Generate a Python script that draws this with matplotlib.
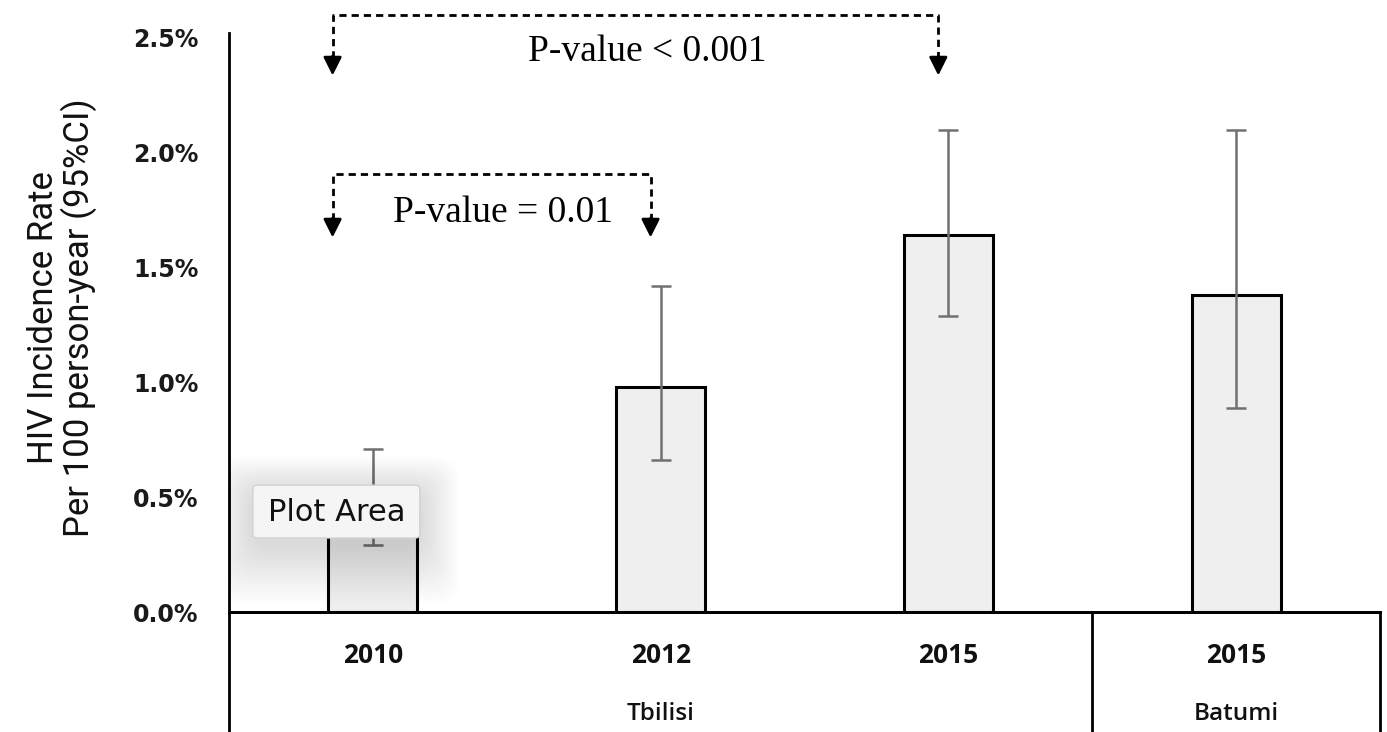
import matplotlib
matplotlib.use('Agg')
import matplotlib.pyplot as plt
from matplotlib.patches import FancyBboxPatch
import numpy as np

# ---------------- data ----------------
categories = ['2010', '2012', '2015', '2015']
cities = ['Tbilisi', 'Batumi']
city_members = [[0, 1, 2], [3]]
rates = [0.46, 0.98, 1.64, 1.38]          # % per 100 person-years
ci_low = [0.29, 0.66, 1.29, 0.89]
ci_high = [0.71, 1.42, 2.10, 2.10]
yticks = [0.0, 0.5, 1.0, 1.5, 2.0, 2.5]
comparisons = [(0, 2, 'P-value < 0.001'), (0, 1, 'P-value = 0.01')]
ylabel_lines = ['HIV Incidence Rate', 'Per 100 person-year (95%CI)']

# ---------------- layout / style ----------------
W, H = 1387, 732
fig = plt.figure(figsize=(W / 100, H / 100), dpi=100)
ax = fig.add_axes([229 / W, 1 - 612 / H, (1380 - 229) / W, (612 - 33) / H])

x = np.arange(len(categories))
rates_a = np.array(rates)
err = [rates_a - np.array(ci_low), np.array(ci_high) - rates_a]

ax.bar(x, rates, width=0.31, color='#efefef', edgecolor='black',
       linewidth=2.2, zorder=2)
ax.errorbar(x, rates, yerr=err, fmt='none', ecolor='#707070',
            elinewidth=1.8, capsize=7, capthick=1.8, zorder=3)

ax.set_xlim(-0.5, 3.5)
ax.set_ylim(0, 2.52)
ax.set_yticks(yticks)
ax.set_yticklabels([f'{v:.1f}%' for v in yticks], fontsize=17,
                   family='DejaVu Sans', weight='bold', color='#1a1a1a')
ax.tick_params(axis='y', length=0, pad=22)
ax.set_xticks([])
for s in ['top', 'right']:
    ax.spines[s].set_visible(False)
ax.spines['left'].set_linewidth(2)
ax.spines['bottom'].set_linewidth(2)

# category table below the axis
xt = ax.get_xaxis_transform()
tb = -0.22
ax.plot([-0.5, -0.5], [0, tb], transform=xt, color='black', lw=2, clip_on=False)
ax.plot([2.5, 2.5], [0, tb], transform=xt, color='black', lw=2, clip_on=False)
ax.plot([3.5, 3.5], [0, tb], transform=xt, color='black', lw=2, clip_on=False)
ax.plot([-0.5, 3.5], [0, 0], transform=xt, color='black', lw=2, clip_on=False)

for i, c in enumerate(categories):
    ax.text(i, -0.075, c, transform=xt, ha='center', va='center',
            fontsize=19, family='Open Sans', weight='bold', color='#111111')
for name, mem in zip(cities, city_members):
    ax.text(np.mean(mem), -0.176, name, transform=xt, ha='center', va='center',
            fontsize=17.5, family='Open Sans', weight='semibold', color='#111111')

# y label
fig.text(62 / W, 1 - 318 / H, '\n'.join(ylabel_lines), rotation=90,
         ha='center', va='center', fontsize=25, family='Roboto',
         linespacing=1.05, color='#111111')

# significance brackets
bracket_levels = [2.60, 1.905]
tip_levels = [2.335, 1.63]
for (a, b, label), lev, tip in zip(comparisons, bracket_levels, tip_levels):
    xl = a - 0.14
    xr = b - 0.035
    stub = tip + 0.075
    ax.plot([xl, xl, xr, xr], [stub, lev, lev, stub], color='black', lw=2,
            linestyle=(0, (2.6, 1.8)), clip_on=False, zorder=4,
            solid_joinstyle='round', dash_joinstyle='round')
    for xx in (xl, xr):
        ax.annotate('', xy=(xx, tip), xytext=(xx, stub + 0.01),
                    arrowprops=dict(arrowstyle='-|>,head_length=1.1,head_width=0.55',
                                    color='black', lw=2, shrinkA=0, shrinkB=0),
                    annotation_clip=False, zorder=4)
    ax.text((xl + xr) / 2 + 0.04, (lev + tip) / 2 - 0.03, label, ha='center',
            va='center', fontsize=27, family='Liberation Serif', color='black',
            zorder=5)

# "Plot Area" tooltip with soft shadow (screen-capture artefact in the source)
bx0, bx1 = -0.417, 0.163     # box extent (x, data units)
by0, by1 = 0.322, 0.552      # box extent (y, %)
aspect = 287.75 / 230.0
for k in range(18):
    gx = 0.0075 * (k + 1)
    gy = gx * aspect
    sh = FancyBboxPatch((bx0 - gx, by0 - gy * 1.5 - 0.03), (bx1 - bx0) + 2 * gx,
                        (by1 - by0) + gy * 2.4,
                        boxstyle='round,pad=0,rounding_size=0.08',
                        mutation_aspect=aspect,
                        facecolor='black', edgecolor='none', alpha=0.0065,
                        zorder=5, clip_on=True)
    ax.add_patch(sh)
box = FancyBboxPatch((bx0, by0), bx1 - bx0, by1 - by0,
                     boxstyle='round,pad=0,rounding_size=0.015',
                     mutation_aspect=aspect,
                     facecolor='#f5f5f5', edgecolor='#d2d2d2', lw=1, zorder=6)
ax.add_patch(box)
ax.text((bx0 + bx1) / 2, (by0 + by1) / 2 - 0.005, 'Plot Area', ha='center',
        va='center', fontsize=22, family='DejaVu Sans', color='#111111',
        zorder=7)

fig.savefig('out.png', dpi=100)
